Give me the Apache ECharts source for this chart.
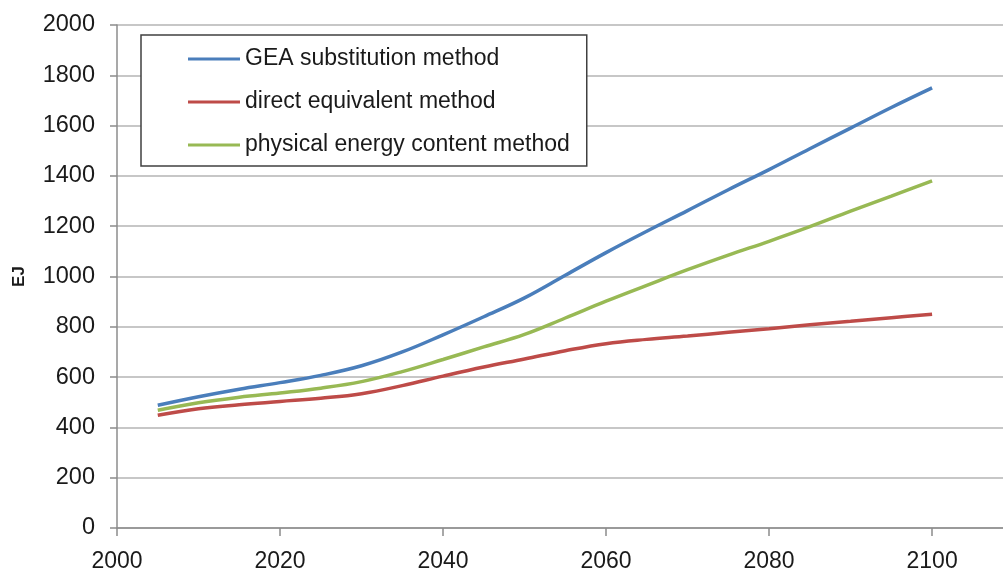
<!DOCTYPE html>
<html>
<head>
<meta charset="utf-8">
<script src="https://cdn.jsdelivr.net/npm/echarts@6/dist/echarts.min.js"></script>
<style>
  html, body { margin: 0; padding: 0; background: #fff; }
  #chart { width: 1003px; height: 571px; }
</style>
</head>
<body>
<div id="chart"></div>
<script>
// data, every 5 years
const years = [2005, 2010, 2015, 2020, 2025, 2030, 2035, 2040, 2045, 2050,
  2055, 2060, 2065, 2070, 2075, 2080, 2085, 2090, 2095, 2100];
const geaSubstitution = [488, 522, 552, 578, 607, 645, 700, 768, 840, 915,
  1005, 1095, 1180, 1262, 1345, 1425, 1508, 1590, 1672, 1750];
const directEquivalent = [448, 474, 490, 503, 516, 534, 566, 604, 640, 672,
  705, 733, 750, 763, 778, 792, 808, 822, 836, 850];
const physicalContent = [468, 498, 520, 537, 556, 582, 622, 670, 720, 770,
  835, 902, 965, 1027, 1085, 1140, 1198, 1260, 1320, 1380];
const xTicks = [2000, 2020, 2040, 2060, 2080, 2100];
const seriesNames = ['GEA substitution method', 'direct equivalent method', 'physical energy content method'];
const colors = ['#4a7ebb', '#be4b48', '#98b954'];

const font = '"Liberation Sans", Arial, sans-serif';
const pairs = (vals) => years.map((y, i) => [y, vals[i]]);

const chart = echarts.init(document.getElementById('chart'), null, { renderer: 'canvas' });

const mkLine = (name, vals, color) => ({
  name: name,
  type: 'line',
  data: pairs(vals),
  smooth: 0.4,
  showSymbol: false,
  lineStyle: { color: color, width: 3.5 },
  itemStyle: { color: color },
});

chart.setOption({
  animation: false,
  backgroundColor: '#fff',
  grid: { left: 117, top: 25, right: 0, bottom: 43, containLabel: false, outerBoundsMode: 'none' },
  legend: {
    orient: 'vertical',
    left: 141,
    top: 35,
    data: seriesNames,
    icon: 'rect',
    itemWidth: 52,
    itemHeight: 3,
    itemGap: 17,
    padding: [11, 17, 8, 47],
    backgroundColor: '#fff',
    borderColor: '#404040',
    borderWidth: 1.5,
    textStyle: { fontFamily: font, fontSize: 23, color: '#1a1a1a', lineHeight: 26 },
  },
  xAxis: {
    type: 'value',
    min: 2000,
    max: 2108.7,
    interval: 20,
    axisLine: { show: true, onZero: false, lineStyle: { color: '#8c8c8c', width: 1.5 } },
    axisTick: { show: true, length: 8, customValues: xTicks, lineStyle: { color: '#8c8c8c', width: 1.5 } },
    axisLabel: { customValues: xTicks, margin: 22, fontFamily: font, fontSize: 23, color: '#1a1a1a',
      formatter: (v) => String(v) },
    splitLine: { show: false },
  },
  yAxis: {
    type: 'value',
    min: 0,
    max: 2000,
    interval: 200,
    name: 'EJ',
    nameLocation: 'middle',
    nameRotate: 90,
    nameGap: 89,
    nameTextStyle: { fontFamily: font, fontSize: 17, fontWeight: 'bold', color: '#1a1a1a' },
    axisLine: { show: true, lineStyle: { color: '#8c8c8c', width: 1.5 } },
    axisTick: { show: true, length: 7, lineStyle: { color: '#8c8c8c', width: 1.5 } },
    axisLabel: { margin: 22, fontFamily: font, fontSize: 23.5, color: '#1a1a1a',
      formatter: (v) => String(v) },
    splitLine: { show: true, lineStyle: { color: '#b4b4b4', width: 1.5 } },
  },
  series: [
    mkLine(seriesNames[0], geaSubstitution, colors[0]),
    mkLine(seriesNames[1], directEquivalent, colors[1]),
    mkLine(seriesNames[2], physicalContent, colors[2]),
  ],
});
</script>
</body>
</html>
